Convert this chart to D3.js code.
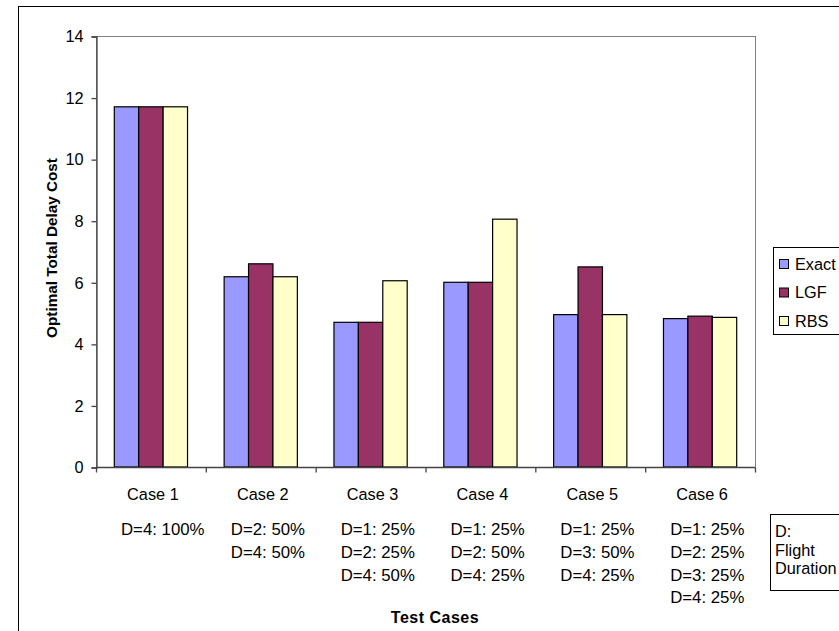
<!DOCTYPE html>
<html>
<head>
<meta charset="utf-8">
<script src="https://cdn.jsdelivr.net/npm/d3@7"></script>
<style>
  body { margin: 0; background: #fff; }
  svg { display: block; font-family: 'Liberation Sans', Arial, sans-serif; }
</style>
</head>
<body>
<svg id="chart" width="839" height="631"></svg>
<script>
let cases = ['Case 1', 'Case 2', 'Case 3', 'Case 4', 'Case 5', 'Case 6']
let series = ['Exact', 'LGF', 'RBS']
let exact = [11.7, 6.18, 4.7, 6.0, 4.95, 4.82]
let lgf = [11.7, 6.6, 4.7, 6.0, 6.5, 4.9]
let rbs = [11.7, 6.18, 6.05, 8.05, 4.95, 4.86]
let durations = [
  ['D=4: 100%'],
  ['D=2: 50%', 'D=4: 50%'],
  ['D=1: 25%', 'D=2: 25%', 'D=4: 50%'],
  ['D=1: 25%', 'D=2: 50%', 'D=4: 25%'],
  ['D=1: 25%', 'D=3: 50%', 'D=4: 25%'],
  ['D=1: 25%', 'D=2: 25%', 'D=3: 25%', 'D=4: 25%']
]
let yTicks = [0, 2, 4, 6, 8, 10, 12, 14]
let colours = ['#9999ff', '#993366', '#ffffcc']

let values = [exact, lgf, rbs]
let data = cases.map(function(c, i) {
  return { name: c, vals: series.map(function(s, j) { return { key: s, value: values[j][i] } }) }
})

let svg = d3.select('#chart')
let plot = { left: 96, right: 755, top: 36, bottom: 467 }
let fontSize = '16.3px'

// outer chart border
svg.append('rect')
    .attr('x', 18.5).attr('y', 6.5)
    .attr('width', 900).attr('height', 700)
    .attr('fill', 'none').attr('stroke', '#000').attr('stroke-width', 1)

let x0 = d3.scaleBand()
    .domain(cases)
    .range([plot.left, plot.right])
    .paddingInner(0)

let x1 = d3.scaleBand()
    .domain(series)
    .range([0, x0.bandwidth()])
    .paddingInner(0)
    .paddingOuter(0.75)

let y = d3.scaleLinear()
    .domain([0, 14])
    .range([plot.bottom, plot.top])

// plot area border (grey)
svg.append('rect')
    .attr('x', plot.left + 0.5).attr('y', plot.top + 0.5)
    .attr('width', plot.right - plot.left).attr('height', plot.bottom - plot.top)
    .attr('fill', 'none').attr('stroke', '#808080').attr('stroke-width', 1)

let groups = svg.append('g').selectAll('g')
    .data(data)
  .enter().append('g')
    .attr('transform', function(d) { return 'translate(' + x0(d.name) + ',0)' })

groups.selectAll('rect')
    .data(function(d) { return d.vals })
  .enter().append('rect')
    .attr('x', function(d) { return x1(d.key) })
    .attr('y', function(d) { return y(d.value) })
    .attr('width', x1.bandwidth())
    .attr('height', function(d) { return y(0) - y(d.value) })
    .attr('fill', function(d, i) { return colours[i] })
    .attr('stroke', '#000')
    .attr('stroke-width', 1.2)

let yAxis = svg.append('g')
    .attr('transform', 'translate(' + (plot.left + 0.5) + ',0.5)')
    .call(d3.axisLeft(y).tickValues(yTicks).tickSize(5).tickPadding(8))

yAxis.selectAll('path, line').attr('stroke', '#444').attr('stroke-width', 1.3)
yAxis.selectAll('text')
    .style('font-size', fontSize)
    .style('font-family', "'Liberation Sans', Arial, sans-serif")
    .attr('fill', '#000')

let xAxis = svg.append('g')
    .attr('transform', 'translate(0,' + (plot.bottom + 0.5) + ')')

xAxis.append('line')
    .attr('x1', plot.left).attr('x2', plot.right)
    .attr('stroke', '#444').attr('stroke-width', 1.3)

let bounds = cases.map(function(c) { return x0(c) }).concat([plot.right])
xAxis.selectAll('.tick')
    .data(bounds)
  .enter().append('line')
    .attr('class', 'tick')
    .attr('x1', function(d) { return d + 0.5 }).attr('x2', function(d) { return d + 0.5 })
    .attr('y1', 0).attr('y2', 5)
    .attr('stroke', '#444').attr('stroke-width', 1.3)

xAxis.selectAll('.case')
    .data(cases)
  .enter().append('text')
    .attr('class', 'case')
    .attr('x', function(d) { return x0(d) + x0.bandwidth() / 2 + 2 })
    .attr('y', 32.5)
    .attr('text-anchor', 'middle')
    .style('font-size', fontSize)
    .text(function(d) { return d })

// duration lines under each case
let dur = svg.append('g')
durations.forEach(function(lines, i) {
  lines.forEach(function(t, k) {
    dur.append('text')
        .attr('x', x0(cases[i]) + 25)
        .attr('y', 535 + k * 22.8)
        .style('font-size', '16.8px')
        .text(t)
  })
})

svg.append('text')
    .attr('x', 435).attr('y', 623)
    .attr('text-anchor', 'middle')
    .style('font-size', '16px').style('font-weight', 'bold')
    .style('letter-spacing', '0.5px')
    .text('Test Cases')

svg.append('text')
    .attr('transform', 'translate(57,248) rotate(-90)')
    .attr('text-anchor', 'middle')
    .style('font-size', '15.3px').style('font-weight', 'bold')
    .text('Optimal Total Delay Cost')

// legend
let legend = svg.append('g')
legend.append('rect')
    .attr('x', 773.5).attr('y', 247.5)
    .attr('width', 100).attr('height', 87)
    .attr('fill', '#fff').attr('stroke', '#000')

let legendY = d3.scalePoint()
    .domain(series)
    .range([264, 321])

series.forEach(function(s, i) {
  legend.append('rect')
      .attr('x', 779.5).attr('y', legendY(s) - 4.5)
      .attr('width', 9).attr('height', 9)
      .attr('fill', colours[i]).attr('stroke', '#000')
  legend.append('text')
      .attr('x', 795).attr('y', legendY(s) + 5.5)
      .style('font-size', fontSize)
      .text(s)
})

// duration note box
let note = svg.append('g')
note.append('rect')
    .attr('x', 770.5).attr('y', 514.5)
    .attr('width', 100).attr('height', 76)
    .attr('fill', '#fff').attr('stroke', '#000')
let noteLines = ['D:', 'Flight', 'Duration']
noteLines.forEach(function(t, k) {
  note.append('text')
      .attr('x', 775).attr('y', 537 + k * 18.5)
      .style('font-size', fontSize)
      .text(t)
})
</script>
</body>
</html>
